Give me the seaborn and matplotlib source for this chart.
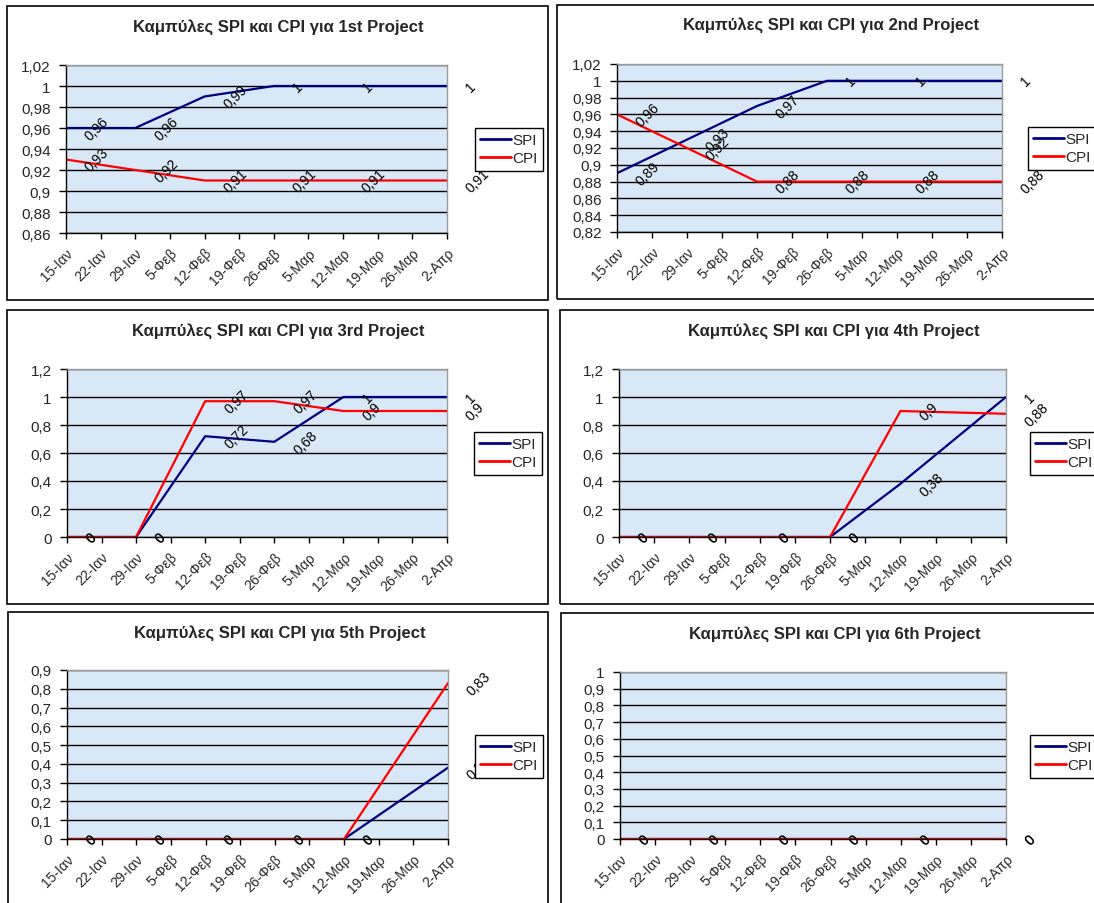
import matplotlib
matplotlib.use("Agg")
import pandas as pd
import matplotlib.pyplot as plt
from matplotlib.patches import Rectangle
from matplotlib.ticker import FuncFormatter
import seaborn as sns

# --- Δεδομένα ---
tick_labels = ["15-Ιαν", "22-Ιαν", "29-Ιαν", "5-Φεβ", "12-Φεβ", "19-Φεβ",
               "26-Φεβ", "5-Μαρ", "12-Μαρ", "19-Μαρ", "26-Μαρ", "2-Απρ"]
point_dates = ["15-Ιαν", "29-Ιαν", "12-Φεβ", "26-Φεβ", "12-Μαρ", "2-Απρ"]
projects = ["1st", "2nd", "3rd", "4th", "5th", "6th"]

spi_1 = [0.96, 0.96, 0.99, 1, 1, 1]
cpi_1 = [0.93, 0.92, 0.91, 0.91, 0.91, 0.91]
spi_2 = [0.89, 0.93, 0.97, 1, 1, 1]
cpi_2 = [0.96, 0.92, 0.88, 0.88, 0.88, 0.88]
spi_3 = [0, 0, 0.72, 0.68, 1, 1]
cpi_3 = [0, 0, 0.97, 0.97, 0.9, 0.9]
spi_4 = [0, 0, 0, 0, 0.38, 1]
cpi_4 = [0, 0, 0, 0, 0.9, 0.88]
spi_5 = [0, 0, 0, 0, 0, 0.38]
cpi_5 = [0, 0, 0, 0, 0, 0.83]
spi_6 = [0, 0, 0, 0, 0, 0]
cpi_6 = [0, 0, 0, 0, 0, 0]

spi_all = [spi_1, spi_2, spi_3, spi_4, spi_5, spi_6]
cpi_all = [cpi_1, cpi_2, cpi_3, cpi_4, cpi_5, cpi_6]

# κλίμακα y: (min, max, βήμα)
y_scales = [(0.86, 1.02, 0.02), (0.82, 1.02, 0.02), (0, 1.2, 0.2),
            (0, 1.2, 0.2), (0, 0.9, 0.1), (0, 1.0, 0.1)]

# --- Διάταξη σε pixels (πλάτος 1094, ύψος 904) ---
W, H = 1094, 904
plot_px = [(66, 66, 447, 234), (617, 65, 1002, 233),
           (67, 370, 447, 538), (619, 370, 1006, 538),
           (67, 671, 448, 840), (620, 673, 1006, 840)]
box_px = [(7, 7, 548, 301), (557, 6, 1110, 300),
          (7, 311, 548, 605), (560, 311, 1110, 605),
          (8, 613, 548, 915), (561, 614, 1110, 915)]
legend_px = [(475, 129), (1028, 128), (474, 433), (1030, 433), (475, 736), (1030, 736)]
title_px = [(278, 27), (831, 25), (278, 331), (834, 331), (280, 633), (835, 634)]

sns.set_theme(style="white")
plt.rcParams['font.family'] = ['Liberation Sans', 'DejaVu Sans']

colors = {"SPI": "#000080", "CPI": "#ff0000"}


def fmt(v):
    s = f"{round(v, 4):g}"
    return s.replace(".", ",")


fig = plt.figure(figsize=(W / 100, H / 100), dpi=100)
fig.patch.set_facecolor("white")

positions = [tick_labels.index(d) for d in point_dates]

for i in range(6):
    # πλαίσιο γραφήματος
    bx0, by0, bx1, by1 = box_px[i]
    fig.patches.append(Rectangle((bx0 / W, 1 - by1 / H), (bx1 - bx0) / W, (by1 - by0) / H,
                                 transform=fig.transFigure, fill=False,
                                 edgecolor="black", linewidth=1.2))

    l, t, r, b = plot_px[i]
    ax = fig.add_axes([l / W, 1 - b / H, (r - l) / W, (b - t) / H])
    ax.set_facecolor("#d9e8f7")

    df = pd.DataFrame({
        "pos": positions * 2,
        "value": spi_all[i] + cpi_all[i],
        "series": ["SPI"] * 6 + ["CPI"] * 6,
    })
    sns.lineplot(data=df, x="pos", y="value", hue="series", hue_order=["SPI", "CPI"],
                 palette=colors, linewidth=1.6, ax=ax, legend=True)

    # ετικέτες δεδομένων
    for name, vals in (("SPI", spi_all[i]), ("CPI", cpi_all[i])):
        for x, v in zip(positions, vals):
            ax.annotate(fmt(v), (x, v), xytext=(12, 0), textcoords="offset points",
                        ha="left", va="center", rotation=45, fontsize=10,
                        color="black", annotation_clip=False)

    ymin, ymax, step = y_scales[i]
    n = int(round((ymax - ymin) / step))
    yt = [ymin + k * step for k in range(n + 1)]
    ax.set_ylim(ymin, ymax)
    ax.set_yticks(yt)
    ax.yaxis.set_major_formatter(FuncFormatter(lambda v, p: fmt(v)))
    ax.set_xlim(0, len(tick_labels) - 1)
    ax.set_xticks(range(len(tick_labels)))
    ax.set_xticklabels(tick_labels, rotation=45, ha="right", rotation_mode="anchor")
    ax.tick_params(axis="x", direction="out", length=4, width=1, color="black",
                   labelsize=10, pad=5, bottom=True)
    ax.tick_params(axis="y", direction="out", length=5, width=1, color="black",
                   labelsize=11, pad=6, left=True)
    ax.set_xlabel("")
    ax.set_ylabel("")

    ax.set_axisbelow(True)
    ax.yaxis.grid(True, color="black", linewidth=1)
    ax.xaxis.grid(False)
    for s in ("top", "right"):
        ax.spines[s].set_color("#9a9a9a")
        ax.spines[s].set_linewidth(1)
    for s in ("left", "bottom"):
        ax.spines[s].set_color("black")
        ax.spines[s].set_linewidth(1)

    lx, ly = legend_px[i]
    leg = ax.legend(loc="upper left", bbox_to_anchor=(lx / W, 1 - ly / H),
                    bbox_transform=fig.transFigure, fontsize=11, frameon=True,
                    fancybox=False, edgecolor="black", framealpha=1,
                    handlelength=2.0, handletextpad=0.1, borderpad=0.35,
                    labelspacing=0.25, borderaxespad=0)
    leg.get_frame().set_linewidth(1)
    for line in leg.get_lines():
        line.set_linewidth(2)

    tx, ty = title_px[i]
    fig.text(tx / W, 1 - ty / H, f"Καμπύλες SPI και CPI για {projects[i]} Project",
             ha="center", va="center", fontsize=12, fontweight="bold")

fig.savefig("out.png", dpi=100)
